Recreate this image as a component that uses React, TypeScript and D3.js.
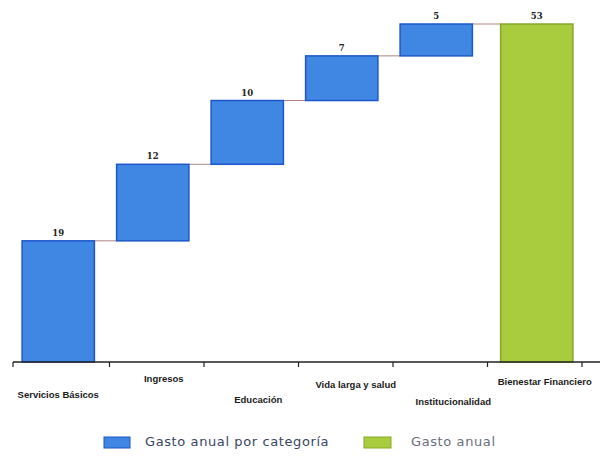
import React from "react";
import * as d3 from "d3";

const categories = ["Servicios Básicos", "Ingresos", "Educación", "Vida larga y salud", "Institucionalidad", "Bienestar Financiero"];
const values = [19, 12, 10, 7, 5];
const totalLabel = "53";
const legendLabels = ["Gasto anual por categoría", "Gasto anual"];

const W = 609, H = 458;
const BLUE = "#3f87e2", BLUE_EDGE = "#1d57c9";
const GREEN = "#a9cb3e", GREEN_EDGE = "#86a82a";

export default function App() {
  const total = d3.sum(values);
  const x = d3.scaleBand<string>().domain(categories).range([11, 578]).paddingInner(0.235).paddingOuter(0.1175);
  const y = d3.scaleLinear().domain([0, total]).range([362, 24]);
  const bw = x.bandwidth();
  const step = x.step();
  let cum = 0;
  const bars = values.map((v, i) => {
    const start = cum;
    cum += v;
    return { cat: categories[i], start, end: cum, v, label: String(v) };
  });
  const all = [...bars, { cat: categories[5], start: 0, end: total, v: total, label: totalLabel }];
  const ticks = categories.map((c) => (x(c) as number) + bw + (step - bw) / 2 + 4);
  const labelDy = [398, 382, 403, 388, 405, 385];
  const labelDx = [0, 11, 11, 14, 17, 14];
  const lastShift = 6;
  return (
    <div style={{ margin: -8 }}>
      <svg width={W} height={H} style={{ display: "block", background: "#fff" }}>
        {all.slice(0, -1).map((b, i) => {
          const next = all[i + 1];
          const nx = (x(next.cat) as number) + (i + 1 === all.length - 1 ? lastShift : 0);
          return (
            <line key={"c" + i} x1={(x(b.cat) as number) + bw} x2={nx}
              y1={y(b.end)} y2={y(b.end)} stroke="#b08484" strokeWidth={1} />
          );
        })}
        {all.map((b, i) => {
          const isTotal = i === all.length - 1;
          const bx = (x(b.cat) as number) + (isTotal ? lastShift : 0);
          return (
            <g key={i}>
              <rect x={bx} y={y(b.end)} width={bw} height={y(b.start) - y(b.end)}
                fill={isTotal ? GREEN : BLUE} stroke={isTotal ? GREEN_EDGE : BLUE_EDGE} strokeWidth={1.5} />
              <text x={bx + bw / 2} y={y(b.end) - 5} textAnchor="middle"
                fontFamily="DejaVu Serif, serif" fontWeight="bold" fontSize={8.5} fill="#222">{b.label}</text>
            </g>
          );
        })}
        <line x1={13} x2={600} y1={362} y2={362} stroke="#222" strokeWidth={1.5} />
        <line x1={13} x2={13} y1={362} y2={367} stroke="#222" strokeWidth={1.2} />
        {ticks.map((t, i) => (
          <line key={"t" + i} x1={t} x2={t} y1={362} y2={367} stroke="#222" strokeWidth={1.2} />
        ))}
        {categories.map((c, i) => (
          <text key={"l" + i} x={(x(c) as number) + bw / 2 + labelDx[i]} y={labelDy[i]} textAnchor="middle"
            fontFamily="Liberation Sans, Arial, sans-serif" fontWeight="bold" fontSize={9.5} fill="#1a1a1a">{c}</text>
        ))}
        <rect x={104} y={437} width={26} height={11} fill={BLUE} stroke={BLUE_EDGE} strokeWidth={1} />
        <text x={145} y={446} fontFamily="DejaVu Sans, sans-serif" fontSize={13} letterSpacing={0.6} fill="#3a4560">{legendLabels[0]}</text>
        <rect x={364} y={437} width={27} height={11} fill={GREEN} stroke={GREEN_EDGE} strokeWidth={1} />
        <text x={411} y={446} fontFamily="DejaVu Sans, sans-serif" fontSize={13} letterSpacing={0.6} fill="#6a6f7a">{legendLabels[1]}</text>
      </svg>
    </div>
  );
}
